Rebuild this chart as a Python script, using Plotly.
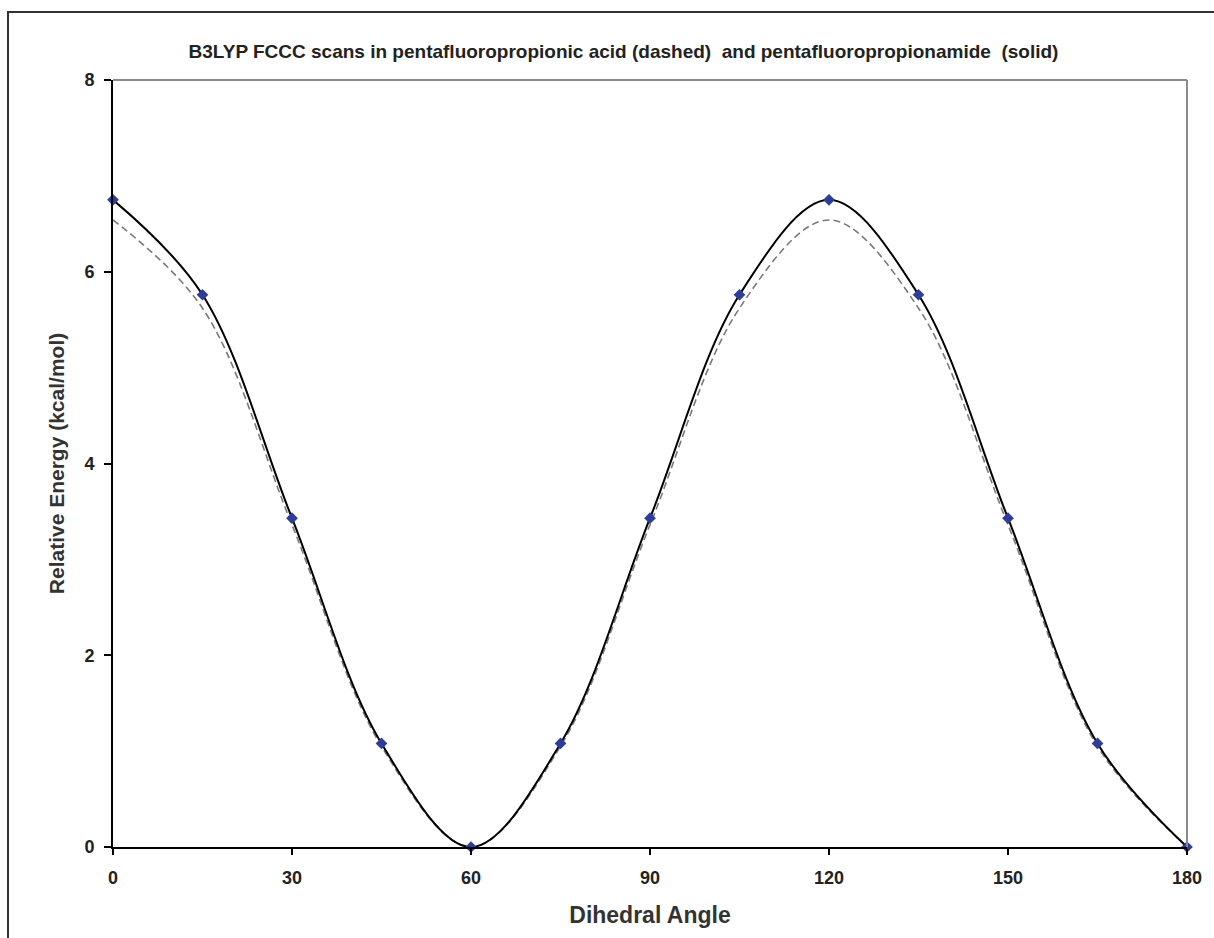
import plotly.graph_objects as go

angles = [0, 15, 30, 45, 60, 75, 90, 105, 120, 135, 150, 165, 180]
amide_energy = [6.75, 5.76, 3.43, 1.08, 0.0, 1.08, 3.43, 5.76, 6.75, 5.76, 3.43, 1.08, 0.0]
acid_energy = [6.54, 5.62, 3.36, 1.05, 0.0, 1.05, 3.36, 5.62, 6.54, 5.62, 3.36, 1.05, 0.0]
x_ticks = [0, 30, 60, 90, 120, 150, 180]
y_ticks = [0, 2, 4, 6, 8]

FONT = "Arial, 'Liberation Sans', sans-serif"

fig = go.Figure()
fig.add_trace(go.Scatter(
    x=angles, y=acid_energy, mode="lines",
    line=dict(color="#7a7a7a", width=1.6, dash="7px,4px", shape="spline", smoothing=1),
    name="acid", cliponaxis=False))
fig.add_trace(go.Scatter(
    x=angles, y=amide_energy, mode="lines+markers",
    line=dict(color="black", width=2, shape="spline", smoothing=1),
    marker=dict(symbol="diamond", size=9, color="#2e3d9a"),
    name="amide", cliponaxis=False))

W, H = 1214, 938
l, r, t, b = 113, 27, 80, 91
pw, ph = W - l - r, H - t - b

def px(xp):
    return (xp - l) / pw

def py(yp):
    return (H - b - yp) / ph

fig.add_shape(type="rect", xref="paper", yref="paper",
              x0=px(8), x1=px(1230), y0=py(955), y1=py(12),
              line=dict(color="#333", width=2), layer="below")
# plot area border (top/right gray)
fig.add_shape(type="line", xref="paper", yref="paper", x0=0, x1=1, y0=1, y1=1,
              line=dict(color="#8a8a8a", width=2))
fig.add_shape(type="line", xref="paper", yref="paper", x0=1, x1=1, y0=0, y1=1,
              line=dict(color="#8a8a8a", width=2))

fig.update_layout(
    width=W, height=H,
    margin=dict(l=l, r=r, t=t, b=b),
    paper_bgcolor="white", plot_bgcolor="white",
    showlegend=False,
    font=dict(family=FONT, color="#222"),
    title=dict(text="<b>B3LYP FCCC scans in pentafluoropropionic acid (dashed)\u00a0 and pentafluoropropionamide\u00a0 (solid)</b>",
               x=(157 + 1090) / 2 / W, xref="container", xanchor="center", y=1 - 51 / H, yanchor="middle",
               font=dict(size=19, family=FONT, color="#222")),
    xaxis=dict(range=[0, 180], tickvals=x_ticks, ticktext=[f"<b>{v}</b>" for v in x_ticks],
               showgrid=False, zeroline=False, showline=True, linecolor="black", linewidth=2,
               ticks="outside", ticklen=6, tickcolor="black", tickwidth=1.5, ticklabelstandoff=7,
               tickfont=dict(size=18, family=FONT, color="#222"),
               title=dict(text="<b>Dihedral Angle</b>", font=dict(size=23, family=FONT, color="#333"), standoff=20)),
    yaxis=dict(range=[0, 8], tickvals=y_ticks, ticktext=[f"<b>{v}</b>" for v in y_ticks],
               showgrid=False, zeroline=False, showline=True, linecolor="black", linewidth=2,
               ticks="outside", ticklen=7, tickcolor="black", tickwidth=1.5, ticklabelstandoff=6,
               tickfont=dict(size=18, family=FONT, color="#222"),
               title=dict(text="<b>Relative Energy (kcal/mol)</b>", font=dict(size=21, family=FONT, color="#333"), standoff=14)),
)

fig.write_html("out.html")
